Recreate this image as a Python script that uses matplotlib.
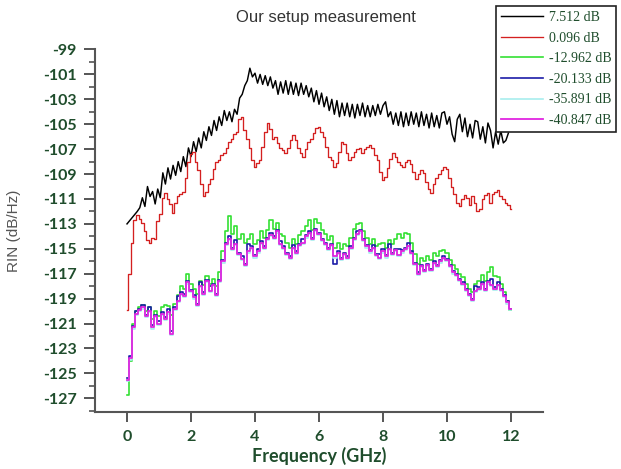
import numpy as np
import matplotlib
matplotlib.use("Agg")
import matplotlib.pyplot as plt
from matplotlib.ticker import MultipleLocator

plt.rcParams['axes.unicode_minus'] = False

# RIN traces (dB/Hz)
# black: 7.512 dB, sampled every 0.08 GHz from 0
black = [
    -113.0, -112.75, -112.5, -112.25, -112.0, -111.7, -110.9, -111.6, -110.0, -110.8,
    -110.4, -111.4, -110.2, -110.9, -108.9, -109.8, -108.5, -109.4, -108.3, -109.1,
    -108.0, -108.8, -107.6, -108.4, -106.9, -107.6, -106.4, -107.2, -106.1, -106.9,
    -105.6, -106.3, -105.2, -105.9, -104.7, -105.5, -104.4, -105.1, -103.9, -104.7,
    -104.0, -104.8, -103.8, -104.2, -102.9, -102.6, -101.9, -101.5, -100.5, -101.2,
    -100.9, -101.7, -101.0, -101.8, -101.1, -101.9, -101.2, -102.1, -101.5, -102.6,
    -101.6, -102.5, -101.5, -102.6, -101.6, -102.6, -101.7, -102.7, -101.7, -102.6,
    -101.9, -102.8, -102.1, -103.2, -102.3, -103.4, -102.5, -103.6, -102.8, -103.9,
    -103.0, -104.2, -103.1, -104.4, -103.3, -104.3, -103.3, -104.4, -103.4, -104.5,
    -103.4, -104.3, -103.3, -104.4, -103.5, -104.4, -103.5, -104.3, -103.4, -104.2,
    -103.5, -103.2, -104.4, -104.0, -105.0, -104.1, -105.1, -104.0, -105.2, -104.1,
    -105.1, -104.0, -105.0, -104.1, -105.2, -104.0, -105.1, -104.2, -105.3, -104.1,
    -105.2, -104.3, -105.3, -104.1, -104.0, -105.0, -104.4, -105.8, -106.4, -104.6,
    -104.2, -105.6, -104.5, -106.0, -105.0, -106.1, -104.7, -104.8, -106.2, -105.2,
    -106.5, -104.9, -105.5, -106.9, -105.6, -106.6, -105.5, -106.5, -106.3, -105.7,
]
# red: 0.096 dB, every 0.08 GHz from 0
red = [
    -119.9, -117.0, -114.5, -112.7, -112.3, -112.6, -112.9, -113.6, -114.3, -114.5,
    -114.1, -114.2, -112.8, -112.2, -110.9, -110.5, -111.0, -111.4, -112.1, -111.3,
    -110.8, -110.6, -110.4, -109.3, -108.0, -107.4, -107.2, -108.0, -108.7, -109.8,
    -110.8, -110.4, -109.8, -109.4, -108.6, -108.0, -107.9, -107.5, -107.3, -106.9,
    -106.4, -106.2, -105.8, -105.6, -104.6, -104.4, -105.5, -106.2, -106.9, -107.9,
    -108.4, -108.1, -107.9, -106.8, -105.6, -104.9, -105.4, -106.2, -106.0, -106.5,
    -106.9, -107.1, -107.3, -106.9, -106.3, -105.9, -106.3, -106.9, -107.3, -107.6,
    -107.0, -106.4, -106.2, -105.7, -105.3, -105.2, -105.6, -106.0, -106.8, -107.6,
    -107.9, -108.4, -108.1, -107.2, -106.4, -106.6, -107.3, -107.9, -107.6, -107.2,
    -107.0, -106.9, -107.3, -107.0, -106.8, -106.7, -106.9, -107.5, -107.9, -108.8,
    -109.5, -109.2, -108.5, -107.8, -107.3, -107.6, -108.0, -108.3, -108.4, -108.0,
    -107.9, -108.2, -108.8, -109.4, -109.0, -108.7, -108.9, -109.6, -110.2, -110.5,
    -109.8, -109.3, -109.0, -108.7, -108.4, -108.6, -109.3, -110.0, -110.6, -111.3,
    -111.6, -111.0, -110.7, -110.9, -111.5, -110.8, -111.3, -112.0, -111.8, -111.0,
    -110.7, -110.5, -111.3, -110.6, -110.4, -110.3, -110.8, -111.0, -111.3, -111.5,
    -111.8,
]
# the four low-power traces, every 0.1 GHz from 0 to 12
green = [
    -126.7, -124.0, -121.0, -120.0, -119.7, -119.5, -120.0, -119.7, -120.6, -120.0,
    -120.4, -119.7, -119.5, -119.6, -120.3, -119.4, -118.7, -118.0, -118.2, -117.0,
    -117.8, -118.2, -118.6, -117.6, -117.9, -117.2, -117.8, -117.4, -118.0, -116.9,
    -115.2, -113.6, -112.4, -113.8, -113.2, -114.2, -113.8, -114.5, -114.2, -113.8,
    -114.6, -114.3, -113.6, -114.1, -113.5, -112.7, -113.4, -112.9, -113.8, -114.0,
    -114.5, -114.9, -114.2, -114.6, -113.9, -113.6, -113.2, -112.7, -113.5, -112.6,
    -112.9, -113.5, -113.8, -114.3, -114.0, -114.9, -114.5, -115.0, -114.6, -114.8,
    -114.1, -113.4, -113.0, -112.9, -113.6, -114.1, -114.6, -114.2, -114.8, -114.6,
    -114.5, -114.9, -114.3, -114.6, -114.2, -113.8, -114.1, -113.7, -113.8, -114.5,
    -115.4, -116.2, -115.7, -116.0, -115.6, -115.9, -115.3, -115.6, -115.2, -115.1,
    -115.3, -115.9, -116.3, -116.6, -117.0, -117.3, -117.8, -118.2, -118.5, -117.8,
    -117.6, -117.1, -117.6, -116.9, -116.5, -117.2, -117.3, -117.8, -118.5, -119.2,
    -119.9,
]
blue = [
    -125.4, -123.6, -121.2, -120.0, -119.8, -119.5, -120.3, -119.7, -121.1, -120.3,
    -120.8, -120.1, -120.5, -119.8, -121.6, -119.7, -118.8, -118.5, -118.6, -117.6,
    -118.3, -118.7, -119.4, -117.7, -118.5, -117.5, -118.0, -117.8, -118.6, -117.5,
    -115.9, -114.5, -114.0, -114.9, -114.3, -115.3, -115.6, -116.2, -114.6, -114.8,
    -115.5, -115.0, -114.4, -114.8, -114.1, -113.7, -114.0, -113.5, -114.4, -114.8,
    -115.3, -115.6, -114.7, -115.2, -114.6, -114.2, -113.9, -113.6, -114.1, -113.4,
    -113.7, -114.2, -114.5, -114.9, -114.6, -116.2, -115.2, -115.7, -115.3, -115.6,
    -114.8, -114.1, -113.6, -113.5, -114.2, -114.7, -115.1, -114.7, -115.4, -115.4,
    -115.0, -115.5, -114.6, -115.3, -115.0, -115.0, -115.1, -114.9, -114.5, -115.2,
    -116.1, -116.9, -116.3, -116.7, -116.2, -116.6, -116.0, -116.3, -115.9, -115.6,
    -115.8, -116.3, -116.8, -117.0, -117.4, -117.7, -118.2, -118.6, -119.0, -118.0,
    -118.1, -117.7, -118.2, -117.6, -117.4, -118.1, -117.7, -118.2, -118.7, -119.2,
    -119.8,
]
cyan = [
    -125.6, -123.9, -121.4, -120.3, -120.0, -119.8, -120.5, -120.1, -121.4, -120.5,
    -121.1, -120.3, -120.7, -120.2, -121.9, -119.9, -119.3, -118.7, -118.9, -117.8,
    -118.5, -119.0, -119.6, -118.1, -118.7, -117.7, -118.5, -118.0, -118.8, -117.7,
    -116.1, -114.7, -114.3, -115.1, -114.7, -115.5, -115.9, -116.4, -115.3, -115.0,
    -115.7, -115.3, -114.6, -115.0, -114.3, -114.0, -114.2, -113.7, -114.7, -115.0,
    -115.5, -115.8, -115.0, -115.4, -114.8, -114.6, -114.1, -113.8, -114.3, -113.6,
    -113.9, -114.4, -114.7, -115.1, -114.8, -115.7, -115.4, -115.9, -115.5, -115.8,
    -115.0, -114.3, -113.9, -113.7, -114.4, -114.9, -115.3, -115.0, -115.6, -115.8,
    -115.3, -115.7, -115.1, -115.5, -115.2, -115.6, -115.3, -115.1, -114.9, -115.4,
    -116.3, -117.1, -116.5, -116.9, -116.4, -116.8, -116.2, -116.5, -116.1, -115.8,
    -116.0, -116.5, -117.0, -117.2, -117.6, -117.9, -118.4, -118.8, -119.2, -118.5,
    -118.3, -117.9, -118.4, -117.8, -118.0, -118.3, -118.0, -118.4, -118.9, -119.4,
    -119.9,
]
magenta = [
    -125.5, -123.8, -121.3, -120.2, -119.9, -119.7, -120.4, -120.0, -121.3, -120.4,
    -121.0, -120.2, -120.6, -120.1, -121.8, -119.8, -119.2, -118.6, -118.8, -117.7,
    -118.4, -118.9, -119.5, -118.0, -118.6, -117.6, -118.4, -117.9, -118.7, -117.6,
    -116.0, -114.6, -114.2, -115.0, -114.6, -115.4, -115.8, -116.3, -115.2, -114.9,
    -115.6, -115.2, -114.5, -114.9, -114.2, -113.9, -114.1, -113.6, -114.6, -114.9,
    -115.4, -115.7, -114.9, -115.3, -114.7, -114.5, -114.0, -113.7, -114.2, -113.5,
    -113.8, -114.3, -114.6, -115.0, -114.7, -115.6, -115.3, -115.8, -115.4, -115.7,
    -114.9, -114.2, -113.8, -113.6, -114.3, -114.8, -115.2, -114.9, -115.5, -115.7,
    -115.2, -115.6, -115.0, -115.4, -115.1, -115.5, -115.2, -115.0, -114.8, -115.3,
    -116.2, -117.0, -116.4, -116.8, -116.3, -116.7, -116.1, -116.4, -116.0, -115.7,
    -115.9, -116.4, -116.9, -117.1, -117.5, -117.8, -118.3, -118.7, -119.1, -118.4,
    -118.2, -117.8, -118.3, -117.7, -117.9, -118.2, -117.9, -118.3, -118.8, -119.3,
    -119.8,
]

labels = ['7.512 dB', '0.096 dB', '-12.962 dB', '-20.133 dB', '-35.891 dB', '-40.847 dB']
colors = ['#000000', '#d42020', '#33e033', '#1c1ca8', '#a8eeee', '#e025e0']

f_hi = np.arange(len(black)) * 0.08   # GHz
f_red = np.arange(len(red)) * 0.08
f_lo = np.arange(len(magenta)) * 0.1

txt_green = '#1f4d2c'

fig = plt.figure(figsize=(6.21, 4.69), dpi=100)
ax = fig.add_axes([95/621, 1 - 412/469, (543 - 95)/621, (412 - 49.5)/469])

ax.plot(f_hi, black, color=colors[0], lw=1.05, label=labels[0])
ax.plot(f_red, red, color=colors[1], lw=0.95, drawstyle='steps-mid', label=labels[1])
ax.plot(f_lo, green, color=colors[2], lw=1.2, drawstyle='steps-mid', label=labels[2])
ax.plot(f_lo, blue, color=colors[3], lw=1.2, drawstyle='steps-mid', label=labels[3])
ax.plot(f_lo, cyan, color=colors[4], lw=1.2, drawstyle='steps-mid', label=labels[4])
ax.plot(f_lo, magenta, color=colors[5], lw=1.3, drawstyle='steps-mid', label=labels[5])

ax.set_xlim(-1, 13)
ax.set_ylim(-128.1, -99)
ax.set_xticks(np.arange(0, 13, 2))
ax.set_yticks(np.arange(-127, -98, 2))
ax.yaxis.set_minor_locator(MultipleLocator(1))

for s in ['top', 'right']:
    ax.spines[s].set_visible(False)
for s in ['left', 'bottom']:
    ax.spines[s].set_color('#555555')
    ax.spines[s].set_linewidth(1.5)

ax.tick_params(axis='y', which='major', length=8, width=1.4, color='#555555', pad=5)
ax.tick_params(axis='y', which='minor', length=4, width=1.2, color='#555555')
ax.tick_params(axis='x', which='major', length=7, width=1.4, color='#555555', pad=6)
for t in ax.get_xticklabels() + ax.get_yticklabels():
    t.set_fontfamily('Lato')
    t.set_fontweight('bold')
    t.set_fontsize(11.5)
    t.set_color(txt_green)

ax.set_xlabel('Frequency (GHz)', fontfamily='Lato', fontweight='bold', fontsize=13,
              color=txt_green, labelpad=2)
ax.set_ylabel('RIN (dB/Hz)', fontfamily='Liberation Sans', fontsize=11, color='#555555',
              labelpad=16)
fig.text(0.525, 0.963, 'Our setup measurement', fontfamily='Liberation Sans', fontsize=12,
         color='#333333', ha='center', va='center')

leg = ax.legend(loc='upper left', bbox_to_anchor=(496/621, 1 - 6/469), bbox_transform=fig.transFigure,
                prop={'family': 'Liberation Serif', 'size': 10}, frameon=True, fancybox=False,
                edgecolor='#222222', framealpha=1, borderpad=0.35, handlelength=3.0,
                handletextpad=0.45, labelspacing=0.55, borderaxespad=0)
leg.get_frame().set_linewidth(1.2)
for t in leg.get_texts():
    t.set_color(txt_green)

fig.savefig('out.png', dpi=100)
